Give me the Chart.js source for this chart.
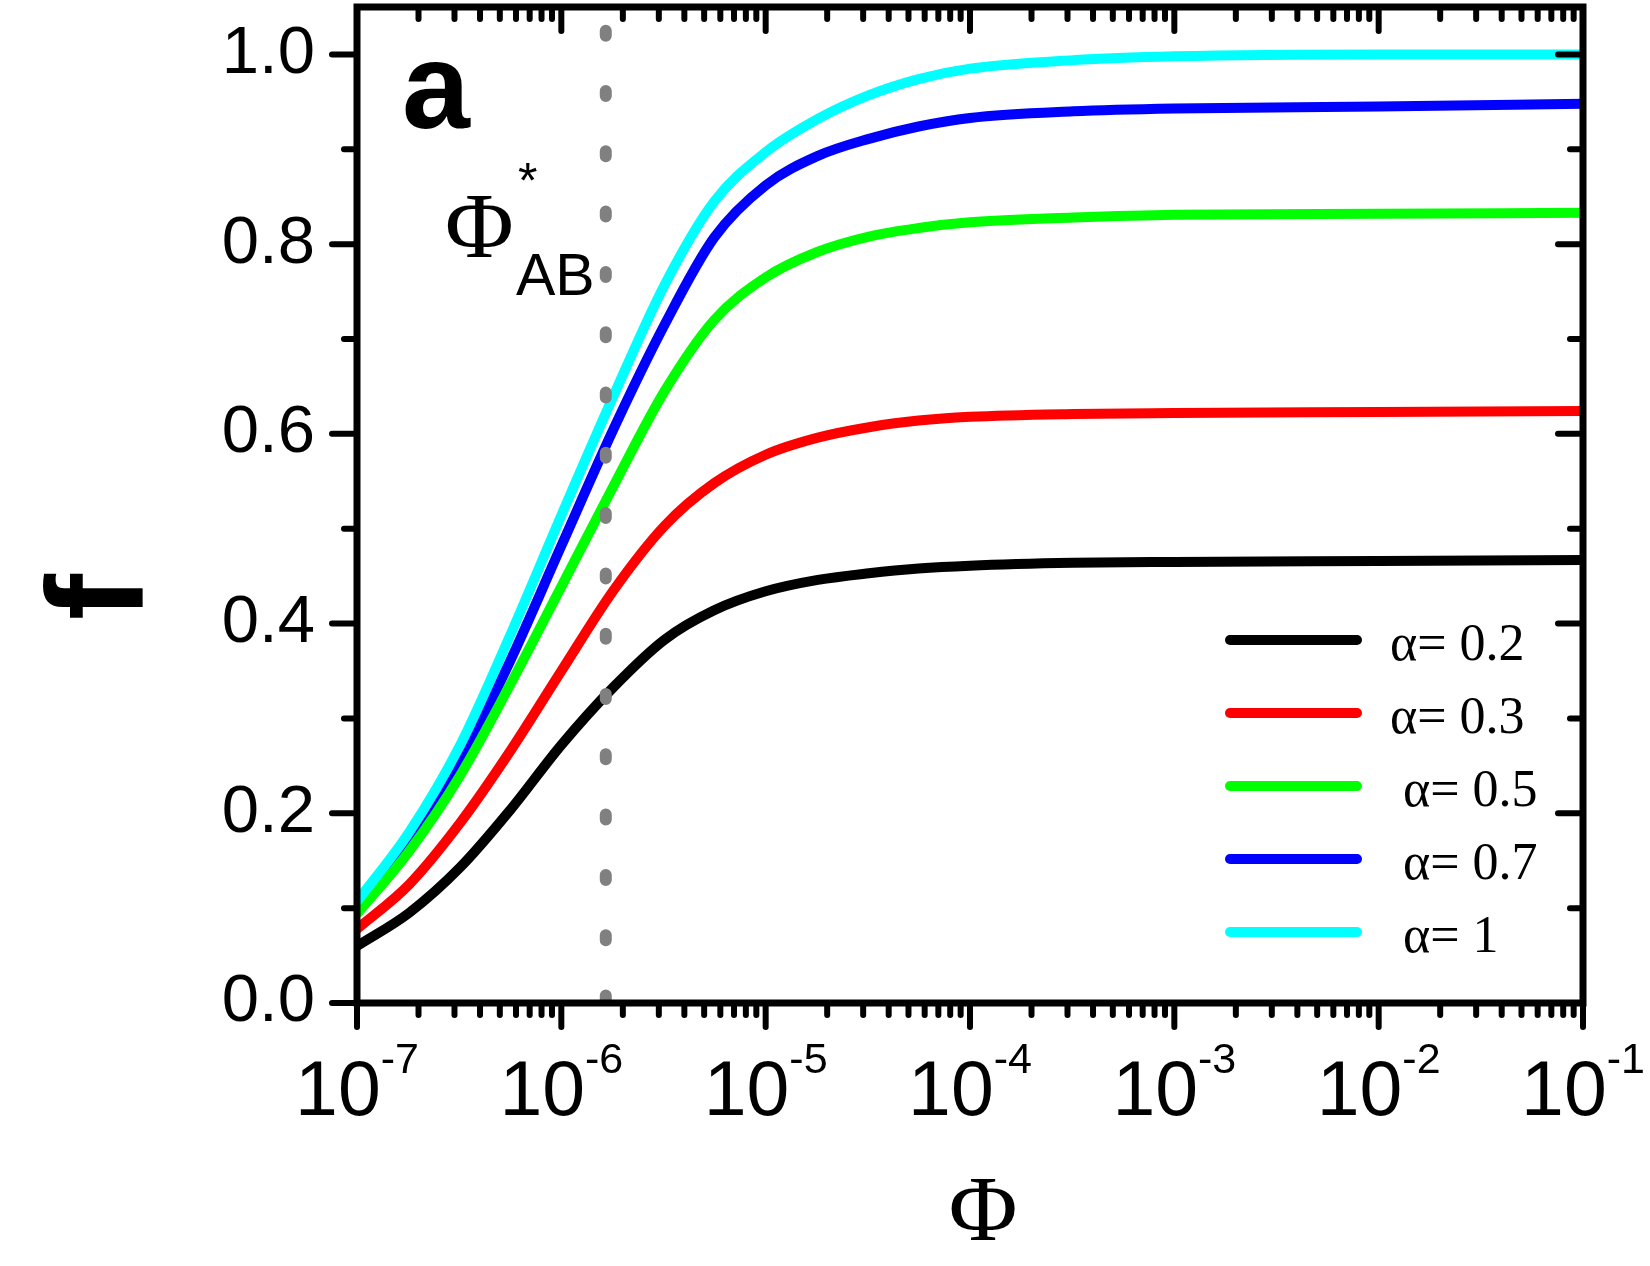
<!DOCTYPE html>
<html>
<head>
<meta charset="utf-8">
<script src="https://cdn.jsdelivr.net/npm/chart.js@4.4.1/dist/chart.umd.min.js"></script>
<style>
  html, body { margin: 0; padding: 0; background: #fff; }
  canvas { display: block; }
</style>
</head>
<body>
<canvas id="main" width="1650" height="1266"></canvas>
<script>
// values
const phi = [1.0e-7, 1.8e-7, 3.2e-7, 5.6e-7, 1.0e-6, 1.8e-6, 3.2e-6, 5.6e-6, 1.0e-5, 1.8e-5, 3.2e-5, 5.6e-5, 1.0e-4, 3.2e-4, 1.0e-3, 1.0e-2, 1.0e-1];

const f02 = [0.060, 0.095, 0.143, 0.203, 0.272, 0.333, 0.383, 0.414, 0.434, 0.446, 0.453, 0.458, 0.461, 0.464, 0.465, 0.466, 0.467];
const f03 = [0.078, 0.125, 0.190, 0.265, 0.350, 0.435, 0.503, 0.548, 0.578, 0.596, 0.607, 0.614, 0.618, 0.621, 0.622, 0.623, 0.624];
const f05 = [0.094, 0.160, 0.240, 0.335, 0.439, 0.545, 0.645, 0.720, 0.765, 0.792, 0.808, 0.817, 0.823, 0.828, 0.831, 0.832, 0.833];
const f07 = [0.101, 0.170, 0.255, 0.360, 0.482, 0.605, 0.715, 0.807, 0.862, 0.893, 0.911, 0.924, 0.933, 0.940, 0.943, 0.945, 0.948];
const f10 = [0.107, 0.180, 0.272, 0.387, 0.514, 0.640, 0.757, 0.845, 0.897, 0.932, 0.957, 0.974, 0.985, 0.994, 0.998, 1.000, 1.000];

const seriesLabels = ['α= 0.2', 'α= 0.3', ' α= 0.5', ' α= 0.7', ' α= 1'];
const seriesColors = ['#000000', '#ff0000', '#00ff00', '#0000ff', '#00ffff'];

// critical value marked by the dotted line
const phiStar = 1.65e-6;
const phiStarY = [0, 1.03];

const xExponents = [-7, -6, -5, -4, -3, -2, -1];
const yMajorTicks = [0, 0.2, 0.4, 0.6, 0.8, 1.0];
const yMinorTicks = [0.1, 0.3, 0.5, 0.7, 0.9];

const panelLabel = 'a';
const xTitle = 'Φ';
const yTitle = 'f';

const SANS = '"Liberation Sans", Arial, sans-serif';
const SERIF = '"Liberation Serif", "Times New Roman", serif';

const toPoints = vals => phi.map((p, i) => ({ x: p, y: vals[i] }));

// blue sits underneath its neighbours, like in the original
const drawOrder = [4, 3, 2, 5, 1];

const datasets = [f02, f03, f05, f07, f10].map((vals, i) => ({
  label: seriesLabels[i],
  data: toPoints(vals),
  borderColor: seriesColors[i],
  borderWidth: 10,
  pointRadius: 0,
  cubicInterpolationMode: 'monotone',
  order: drawOrder[i],
}));

datasets.push({
  label: 'phiStar',
  data: phiStarY.map(v => ({ x: phiStar, y: v })),
  borderColor: '#808080',
  borderWidth: 12,
  borderDash: [5, 55.3],
  borderDashOffset: 57.8,
  borderCapStyle: 'round',
  pointRadius: 0,
  order: 0,
});

const framePlugin = {
  id: 'frame',
  afterDatasetsDraw(chart) {
    const { ctx, chartArea: a, scales: { x, y } } = chart;
    ctx.save();

    const line = (x1, y1, x2, y2) => {
      ctx.beginPath();
      ctx.moveTo(x1, y1);
      ctx.lineTo(x2, y2);
      ctx.stroke();
    };

    // ticks: outward on left/bottom, inward on top/right
    ctx.strokeStyle = '#000';
    ctx.lineWidth = 6;
    ctx.lineCap = 'round';
    x.ticks.forEach(t => {
      const px = x.getPixelForValue(t.value);
      const len = t.major ? 24 : 12;
      line(px, a.bottom, px, a.bottom + len);
      line(px, a.top, px, a.top + len);
    });
    y.ticks.forEach(t => {
      const py = y.getPixelForValue(t.value);
      const len = t.major ? 25 : 13;
      line(a.left, py, a.left - len, py);
      line(a.right, py, a.right - len, py);
    });

    ctx.lineWidth = 7;
    ctx.lineCap = 'butt';
    ctx.lineJoin = 'miter';
    ctx.strokeRect(a.left, a.top, a.right - a.left, a.bottom - a.top);

    ctx.fillStyle = '#000';
    ctx.textBaseline = 'alphabetic';

    // x tick labels 10^n
    xExponents.forEach(e => {
      const px = x.getPixelForValue(Math.pow(10, e));
      ctx.font = '77px ' + SANS;
      const wBase = ctx.measureText('10').width;
      ctx.font = '43px ' + SANS;
      const sup = String(e);
      const wSup = ctx.measureText(sup).width;
      const x0 = px - (wBase + wSup) / 2;
      ctx.textAlign = 'left';
      ctx.font = '77px ' + SANS;
      ctx.fillText('10', x0, a.bottom + 112);
      ctx.font = '43px ' + SANS;
      ctx.fillText(sup, x0 + wBase, a.bottom + 70);
    });

    // axis titles
    ctx.textAlign = 'center';
    ctx.font = '94px ' + SERIF;
    ctx.fillText(xTitle, 983, 1240);

    ctx.save();
    ctx.translate(143, 597);
    ctx.rotate(-Math.PI / 2);
    ctx.font = 'bold 138px ' + SANS;
    ctx.fillText(yTitle, 0, 0);
    ctx.restore();

    // panel label and annotation
    ctx.textAlign = 'left';
    ctx.font = 'bold 122px ' + SANS;
    ctx.fillText(panelLabel, 402, 128);

    ctx.font = '94px ' + SERIF;
    ctx.fillText('Φ', 445, 257);
    ctx.font = '50px ' + SANS;
    ctx.fillText('*', 518, 198);
    ctx.font = '59px ' + SANS;
    ctx.fillText('AB', 516, 295);

    // legend
    const curves = chart.data.datasets.slice(0, seriesLabels.length);
    curves.forEach((ds, i) => {
      const ly = 640 + i * 73;
      ctx.strokeStyle = ds.borderColor;
      ctx.lineWidth = 10;
      ctx.lineCap = 'round';
      line(1230, ly, 1357, ly);
      ctx.font = '52px ' + SERIF;
      ctx.fillText(ds.label, 1390, ly + 20);
    });

    ctx.restore();
  }
};

new Chart(document.getElementById('main'), {
  type: 'line',
  data: { datasets },
  options: {
    responsive: false,
    devicePixelRatio: 1,
    animation: false,
    layout: { padding: { top: 7, right: 67, bottom: 0, left: 0 } },
    plugins: { legend: { display: false }, tooltip: { enabled: false } },
    scales: {
      x: {
        type: 'logarithmic',
        min: 1e-7,
        max: 1e-1,
        grid: { display: false, drawTicks: false },
        border: { display: false },
        ticks: { display: false },
        afterBuildTicks: scale => {
          const ticks = [];
          xExponents.forEach(e => {
            const dec = Math.pow(10, e);
            ticks.push({ value: dec, major: true });
            if (e < xExponents[xExponents.length - 1]) {
              for (let k = 2; k <= 9; k++) ticks.push({ value: k * dec, major: false });
            }
          });
          scale.ticks = ticks;
        },
        afterFit: scale => {
          scale.height = 263;
          scale.paddingLeft = 0;
          scale.paddingRight = 0;
        },
      },
      y: {
        type: 'linear',
        min: 0,
        max: 1.05,
        grid: { display: false, drawTicks: false },
        border: { display: false },
        ticks: {
          autoSkip: false,
          padding: 42,
          color: '#000',
          font: { family: SANS, size: 67 },
          callback: v => yMajorTicks.some(t => Math.abs(t - v) < 1e-9) ? v.toFixed(1) : '',
        },
        afterBuildTicks: scale => {
          scale.ticks = yMajorTicks.map(v => ({ value: v, major: true }))
            .concat(yMinorTicks.map(v => ({ value: v, major: false })))
            .sort((p, q) => p.value - q.value);
        },
        afterFit: scale => {
          scale.width = 357;
          scale.paddingTop = 0;
          scale.paddingBottom = 0;
        },
      },
    },
  },
  plugins: [framePlugin],
});
</script>
</body>
</html>
